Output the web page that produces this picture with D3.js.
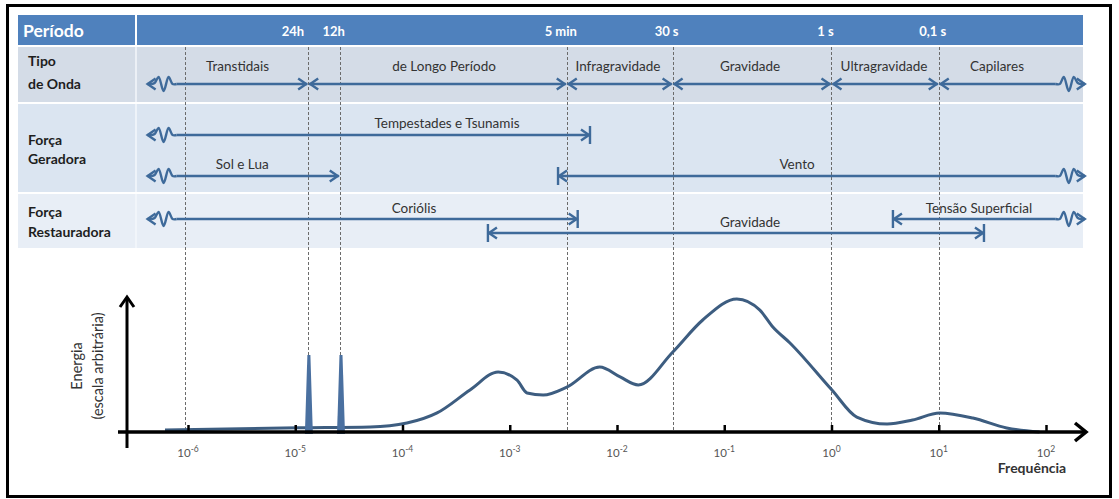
<!DOCTYPE html>
<meta charset="utf-8">
<title>Espectro de ondas oceânicas</title>
<style>
  body { margin: 0; background: #fff; }
  svg { display: block; font-family: Lato, "Open Sans", sans-serif; }
  .row-title { font-weight: bold; font-size: 14px; fill: #1e1e1e; }
  .seg-label { font-size: 13.5px; fill: #333; }
  .head-label { font-weight: bold; font-size: 13px; fill: #fff; }
  .tick-label { font-size: 11.5px; fill: #555; }
  .spectrum { fill: none; stroke: #3d5d80; stroke-width: 3px; }
  .spike { fill: #4a70a0; }
  .guide { stroke: #6b6b6b; stroke-width: 1; stroke-dasharray: 3,2; }
  .arrow { fill: none; stroke: #3e6a9a; stroke-width: 2.4px; stroke-linejoin: miter; }
</style>
<body>
<script src="https://cdn.jsdelivr.net/npm/d3@7"></script>
<script>
// periods marked on top band and their frequency (Hz) as placed in the picture
const periodLabels = ["24h", "12h", "5 min", "30 s", "1 s", "0,1 s"];
const periodFreq   = [1.32e-5, 2.6e-5, 3.4e-3, 3.3e-2, 1, 10];
const guideFreq    = [9.4e-7, 1.32e-5, 2.6e-5, 3.4e-3, 3.3e-2, 1, 10];

// open ends of the table arrows (wavy ends)
const farLeft = 4.2e-7, farRight = 230;

// rows of the table
const rowTitles = [["Tipo", "de Onda"], ["Força", "Geradora"], ["Força", "Restauradora"]];

// segments: lane, from, to, end styles, label, label position (Hz)
const tipoOnda = [
  { label: "Transtidais",      from: farLeft, to: 1.32e-5, start: "wave", end: "arrow", at: 2.9e-6 },
  { label: "de Longo Período", from: 1.32e-5, to: 3.4e-3,  start: "arrow", end: "arrow", at: 2.44e-4 },
  { label: "Infragravidade",   from: 3.4e-3,  to: 3.3e-2,  start: "arrow", end: "arrow", at: 1.02e-2 },
  { label: "Gravidade",        from: 3.3e-2,  to: 1,       start: "arrow", end: "arrow", at: 0.174 },
  { label: "Ultragravidade",   from: 1,       to: 10,      start: "arrow", end: "arrow", at: 3.09 },
  { label: "Capilares",        from: 10,      to: farRight, start: "arrow", end: "wave", at: 34.9 }
];
const forcaGeradora = [
  { label: "Tempestades e Tsunamis", lane: 0, from: farLeft, to: 5.6e-3, start: "wave", end: "bar", at: 2.6e-4 },
  { label: "Sol e Lua",              lane: 1, from: farLeft, to: 2.6e-5, start: "wave", end: "arrow", at: 3.2e-6 },
  { label: "Vento",                  lane: 1, from: 2.82e-3, to: farRight, start: "bar", end: "wave", at: 0.477 }
];
const forcaRestauradora = [
  { label: "Coriólis",           lane: 0, from: farLeft, to: 4.3e-3, start: "wave", end: "bar", at: 1.28e-4 },
  { label: "Gravidade",          lane: 1, from: 6.26e-4, to: 26.4,   start: "bar",  end: "bar", at: 0.174 },
  { label: "Tensão Superficial", lane: 0, from: 3.74,    to: farRight, start: "bar", end: "wave", at: 23.7 }
];

// energy spectrum (arbitrary units)
const specFreq   = [6.1e-7, 1.07e-5, 5.0e-5, 1.1e-4, 2.1e-4, 4.26e-4, 7.8e-4, 1.17e-3, 1.45e-3, 2.05e-3,
                    3.4e-3, 6.9e-3, 1.07e-2, 1.58e-2, 3.3e-2, 6.3e-2, 0.131, 0.215, 0.284, 0.41,
                    1.01, 1.72, 3.3, 5.7, 10.2, 20.8, 43, 87];
const specEnergy = [1.4, 3, 3.6, 6.4, 13.6, 30, 42.9, 37, 27.9, 26.4,
                    32, 46.4, 39.3, 33.6, 57, 80, 95, 87, 75, 63.6,
                    30, 10.7, 5.7, 8.6, 13.6, 10, 2.9, 0];
const spikeFreq   = [1.34e-5, 2.67e-5];
const spikeEnergy = [55, 55];

const decades = [-6, -5, -4, -3, -2, -1, 0, 1, 2];

const W = 1119, H = 499;
const svg = d3.select("body").append("svg").attr("width", W).attr("height", H);

const x = d3.scaleLog().domain([1e-6, 1e2]).range([188, 1046]);
const y = d3.scaleLinear().domain([0, 100]).range([432, 292]);

// outer frame
svg.append("rect").attr("x", 7.5).attr("y", 5.5).attr("width", 1103).attr("height", 491)
  .attr("fill", "none").attr("stroke", "#000").attr("stroke-width", 3);

// table bands
const tableL = 18, tableR = 1083, colR = 135;
const rows = [
  { top: 47,  bottom: 102, fill: "#d4dce7", titleY: [66, 89],   lanes: [84] },
  { top: 104, bottom: 192, fill: "#dbe5f1", titleY: [145, 164], lanes: [135, 176] },
  { top: 194, bottom: 248, fill: "#e8eef6", titleY: [217, 237], lanes: [219, 233] }
];

svg.append("rect").attr("x", tableL).attr("y", 15).attr("width", tableR - tableL).attr("height", 30).attr("fill", "#4f81bd");
svg.append("line").attr("x1", colR + 1).attr("x2", colR + 1).attr("y1", 15).attr("y2", 45).attr("stroke", "#fff").attr("stroke-width", 2);
svg.append("text").attr("x", 23).attr("y", 37).attr("fill", "#fff").attr("font-weight", "bold").attr("font-size", 17.5).text("Período");

rows.forEach((r, i) => {
  svg.append("rect").attr("x", tableL).attr("y", r.top).attr("width", tableR - tableL).attr("height", r.bottom - r.top).attr("fill", r.fill);
  svg.append("line").attr("x1", colR + 1).attr("x2", colR + 1).attr("y1", r.top).attr("y2", r.bottom).attr("stroke", "#f4f7fb").attr("stroke-width", 1.5);
  rowTitles[i].forEach((t, k) => {
    svg.append("text").attr("class", "row-title").attr("x", 28).attr("y", r.titleY[k]).text(t);
  });
});

// dashed guides
svg.append("g").selectAll("line").data(guideFreq).join("line")
  .attr("class", "guide")
  .attr("x1", d => Math.round(x(d)) + 0.5).attr("x2", d => Math.round(x(d)) + 0.5)
  .attr("y1", 47).attr("y2", 432);

// period labels in header
svg.append("g").selectAll("text").data(periodLabels).join("text")
  .attr("class", "head-label")
  .attr("x", (d, i) => x(periodFreq[i]) + (i === 0 ? -4 : -6))
  .attr("y", 36)
  .attr("text-anchor", (d, i) => i === 0 ? "end" : "middle")
  .text(d => d);

// arrow drawing helpers
const arrowLayer = svg.append("g");
function chevron(tx, ty, dir) {
  // dir = -1 points left, +1 points right
  arrowLayer.append("path").attr("class", "arrow")
    .attr("d", `M${tx - dir * 8},${ty - 5.5} L${tx},${ty} L${tx - dir * 8},${ty + 5.5}`);
}
function bar(bx, by) {
  arrowLayer.append("path").attr("class", "arrow").attr("d", `M${bx},${by - 9} V${by + 9}`);
}
const waveShape = [[0, 0], [3, -1], [7, -7], [12, 7], [17, -7], [21, 0], [25, 0]];
function wave(x0, wy, dir) {
  // wavy end starting at the tip x0 and running inward (dir +1: inward to the right)
  const pts = waveShape.map(p => [x0 + dir * (4 + p[0]), wy + p[1]]);
  arrowLayer.append("path").attr("class", "arrow")
    .attr("d", `M${x0},${wy} L${pts[0][0]},${wy}` + d3.line().curve(d3.curveCatmullRom)(pts).replace(/^M/, "L"));
  chevron(x0, wy, -dir);
  return x0 + dir * 29;
}

function drawSegments(data, row, labelDy) {
  data.forEach(s => {
    const ly = rows[row].lanes[s.lane || 0];
    const x1 = x(s.from), x2 = x(s.to);
    let a = x1 + 1, b = x2 - 1;
    if (s.start === "wave") a = wave(x1, ly, 1);
    else if (s.start === "bar") { bar(x1, ly); chevron(x1 + 1, ly, -1); }
    else chevron(x1 + 2, ly, -1);
    if (s.end === "wave") b = wave(x2, ly, -1);
    else if (s.end === "bar") { bar(x2, ly); chevron(x2 - 1, ly, 1); }
    else chevron(x2 - 2, ly, 1);
    arrowLayer.append("path").attr("class", "arrow").attr("d", `M${a},${ly} H${b}`);
    svg.append("text").attr("class", "seg-label")
      .attr("x", x(s.at)).attr("y", ly + labelDy)
      .attr("text-anchor", "middle").text(s.label);
  });
}
drawSegments(tipoOnda, 0, -13);
drawSegments(forcaGeradora, 1, -7);
drawSegments(forcaRestauradora, 2, -6);

// spectrum
const spec = specFreq.map((f, i) => [x(f), y(specEnergy[i])]);
svg.append("path").attr("class", "spectrum")
  .attr("d", d3.line().curve(d3.curveMonotoneX)(spec));

svg.append("g").selectAll("path").data(spikeFreq).join("path")
  .attr("class", "spike")
  .attr("d", (d, i) => {
    const cx = x(d), top = y(spikeEnergy[i]), base = y(0) + 2;
    return `M${cx - 4},${base} L${cx - 1.5},${top} L${cx + 1.5},${top} L${cx + 4},${base} Z`;
  });

// axes
const axisG = svg.append("g").attr("transform", `translate(0,${y(0)})`)
  .call(d3.axisBottom(x).tickValues(decades.map(e => Math.pow(10, e))).tickSize(-7).tickFormat(() => ""));
axisG.select(".domain").remove();
axisG.selectAll(".tick line").attr("stroke", "#000").attr("stroke-width", 2.5);

svg.append("path").attr("d", `M118,${y(0)} H1085`).attr("stroke", "#000").attr("stroke-width", 3.5).attr("fill", "none");
svg.append("path").attr("d", `M1075,${y(0) - 9} L1086,${y(0)} L1075,${y(0) + 9}`).attr("stroke", "#000").attr("stroke-width", 3.5).attr("fill", "none");
svg.append("path").attr("d", `M127,448 V298`).attr("stroke", "#000").attr("stroke-width", 3).attr("fill", "none");
svg.append("path").attr("d", `M120,307 L127,297 L134,307`).attr("stroke", "#000").attr("stroke-width", 3).attr("fill", "none");

const tl = svg.append("g").selectAll("text").data(decades).join("text")
  .attr("class", "tick-label")
  .attr("x", d => x(Math.pow(10, d)))
  .attr("y", 457)
  .attr("text-anchor", "middle");
tl.append("tspan").text("10");
tl.append("tspan").attr("dy", -5).attr("font-size", 8.5).text(d => d);

svg.append("text").attr("x", 1032).attr("y", 473).attr("text-anchor", "middle")
  .attr("font-weight", "bold").attr("font-size", 14).attr("fill", "#333").text("Frequência");

const yl = svg.append("text").attr("transform", "translate(82,366) rotate(-90)")
  .attr("text-anchor", "middle").attr("font-size", 14.5).attr("fill", "#333");
yl.append("tspan").attr("x", 0).attr("y", 0).text("Energia");
yl.append("tspan").attr("x", 0).attr("y", 21).text("(escala arbitrária)");
</script>
</body>
